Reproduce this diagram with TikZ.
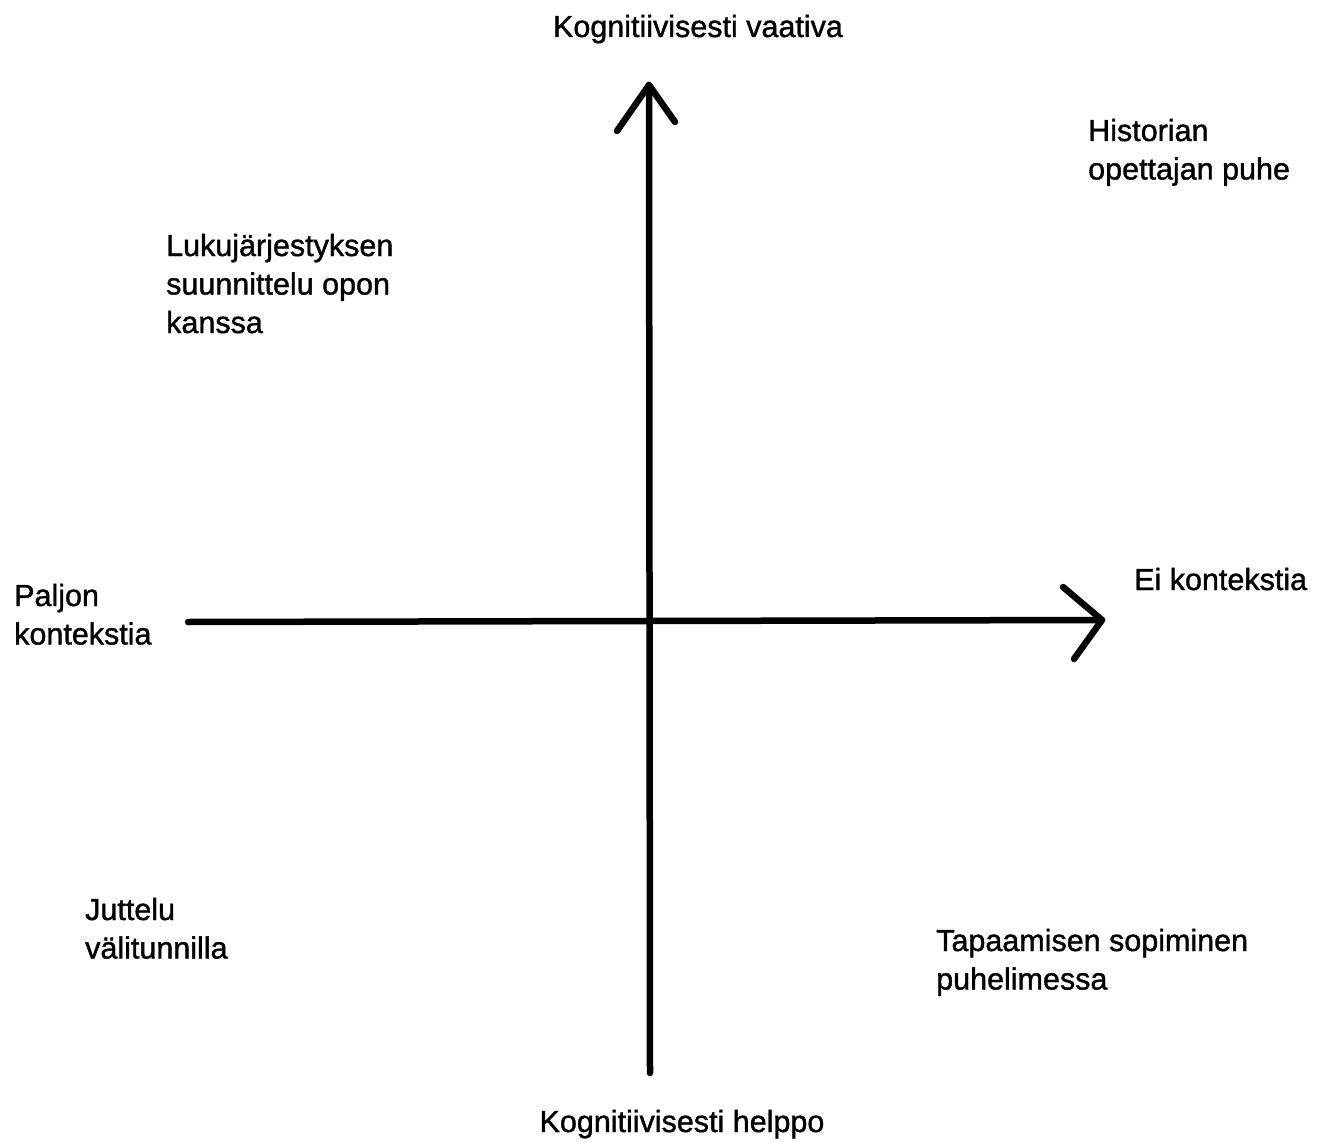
\documentclass[tikz,border=0pt]{standalone}
\usepackage{fontspec}
\setmainfont{Liberation Sans}[FakeBold=1.2]
\begin{document}
\begin{tikzpicture}[x=1pt,y=-1pt,
  lbl/.style={font=\fontsize{30.5}{38.5}\selectfont, inner sep=0pt, align=left, anchor=base west},
  axis/.style={line width=6.5pt, line cap=round, line join=round}]
\useasboundingbox (0,0) rectangle (1323,1142);
% axes coordinates
\coordinate (vbot) at (650,1073);
\coordinate (vtop) at (649,85);
\coordinate (hleft) at (188,622);
\coordinate (hright) at (1102,620);
\coordinate (uwl) at (617,131);
\coordinate (uwr) at (675,122);
\coordinate (rwu) at (1063,587);
\coordinate (rwd) at (1074,659);
\draw[axis] (vbot) -- (vtop);
\draw[axis] (hleft) -- (hright);
\draw[axis] (uwl) -- (vtop) -- (uwr);
\draw[axis] (rwu) -- (hright) -- (rwd);
% labels (base anchor = baseline of the last line)
\node[lbl, anchor=base] (top) at (698,37) {Kognitiivisesti vaativa};
\node[lbl, anchor=base] (bottom) at (682,1132) {Kognitiivisesti helppo};
\node[lbl] (hist) at (1088,179.5) {Historian\\opettajan puhe};
\node[lbl] (luku) at (166,333) {Lukujärjestyksen\\suunnittelu opon\\kanssa};
\node[lbl] (paljon) at (14,644.5) {Paljon\\kontekstia};
\node[lbl] (ei) at (1134,590) {Ei kontekstia};
\node[lbl] (jut) at (85,958.5) {Juttelu\\välitunnilla};
\node[lbl] (tap) at (936,989.5) {Tapaamisen sopiminen\\puhelimessa};
\end{tikzpicture}
\end{document}
